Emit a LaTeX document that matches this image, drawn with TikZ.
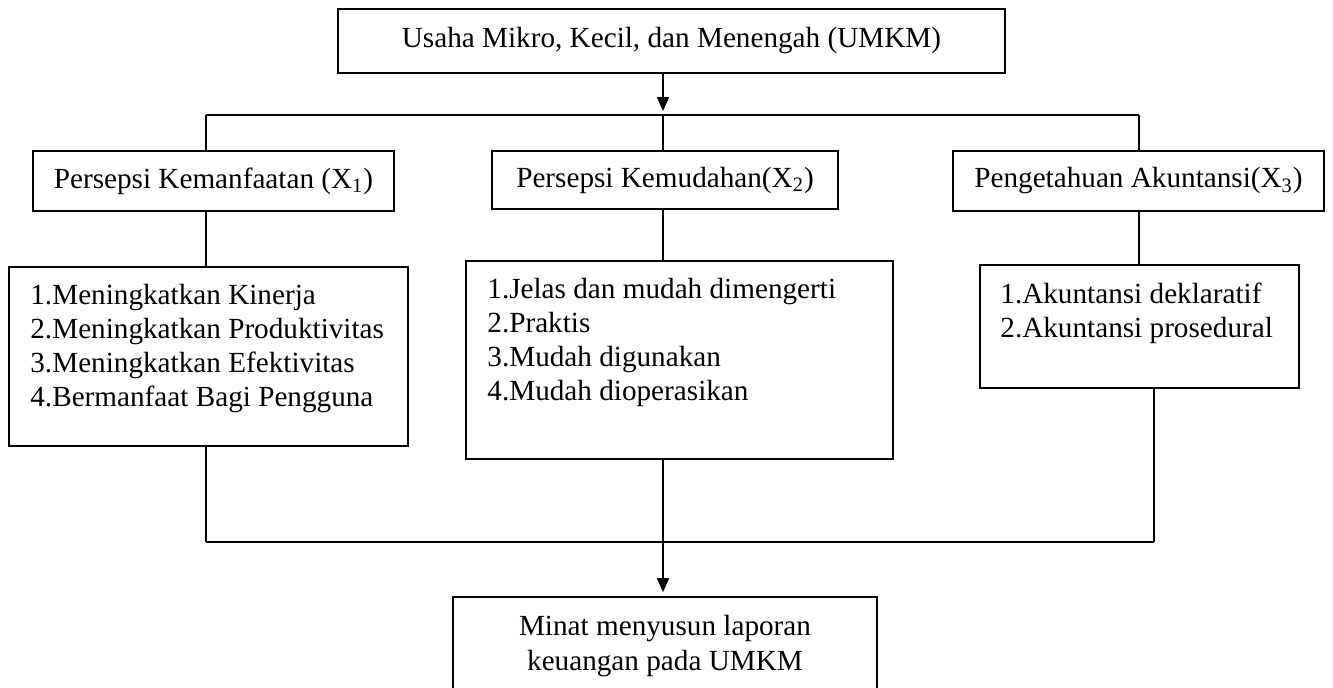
\documentclass[tikz,border=0pt]{standalone}
\usepackage{fontspec}
\setmainfont{Liberation Serif}
\usetikzlibrary{arrows.meta,calc}
\begin{document}
\begin{tikzpicture}[x=0.5pt,y=-0.5pt,
  box/.style={draw, line width=0.8pt, rectangle, inner sep=0pt, font=\fontsize{14.6pt}{17pt}\selectfont},
  listtext/.style={inner sep=0pt, anchor=base west, font=\fontsize{14.6pt}{17pt}\selectfont},
  conn/.style={line width=0.8pt},
  hconn/.style={line width=1pt},
  arr/.style={line width=0.8pt, -{Triangle[width=6pt,length=7pt]}, shorten >=2pt}
]
\useasboundingbox (0,0) rectangle (1333,687);
\clip (0,0) rectangle (1333,687);
\fill[white] (0,0) rectangle (1333,687);

% boxes
\node[box, minimum width=333.5pt, minimum height=32pt] (umkm) at (671.5,41) {Usaha Mikro, Kecil, dan Menengah (UMKM)};
\node[box, minimum width=180.5pt, minimum height=30pt] (x1) at (213.5,181) {Persepsi Kemanfaatan (X\textsubscript{1})};
\node[box, minimum width=173pt, minimum height=29pt] (x2) at (665,180) {Persepsi Kemudahan(X\textsubscript{2})};
\node[box, minimum width=185.5pt, minimum height=30pt] (x3) at (1138.5,181) {Pengetahuan Akuntansi(X\textsubscript{3})};

\node[box, minimum width=199.5pt, minimum height=89.5pt] (l1) at (208.5,356.5) {};
\node[box, minimum width=213.5pt, minimum height=99pt] (l2) at (679.5,360) {};
\node[box, minimum width=159.5pt, minimum height=61.5pt] (l3) at (1139.5,326.5) {};
\node[box, minimum width=212pt, minimum height=70pt] (mbox) at (665,667) {};

% texts
\node[listtext] (l1t) at (30,304) {\parbox[t]{190pt}{1.Meningkatkan Kinerja\\2.Meningkatkan Produktivitas\\3.Meningkatkan Efektivitas\\4.Bermanfaat Bagi Pengguna}};
\node[listtext] (l2t) at (487,298) {\parbox[t]{200pt}{1.Jelas dan mudah dimengerti\\2.Praktis\\3.Mudah digunakan\\4.Mudah dioperasikan}};
\node[listtext] (l3t) at (1000,303) {\parbox[t]{150pt}{1.Akuntansi deklaratif\\2.Akuntansi prosedural}};
\node[inner sep=0pt, anchor=base, font=\fontsize{14.6pt}{17.5pt}\selectfont] (mt) at (665,635) {\parbox[t]{200pt}{\centering Minat menyusun laporan\\keuangan pada UMKM}};

% top connectors
\coordinate (jtop) at (663,115);
\coordinate (tl) at (206,115);
\coordinate (tr) at (1139,115);
\draw[arr] (umkm.south -| jtop) -- (jtop);
\draw[hconn] (tl) -- (tr);
\draw[conn] (tl) -- (x1.north -| tl);
\draw[conn] (jtop) -- (x2.north -| jtop);
\draw[conn] (tr) -- (x3.north -| tr);
\draw[conn] (x1.south -| tl) -- (l1.north -| tl);
\draw[conn] (x2.south -| jtop) -- (l2.north -| jtop);
\draw[conn] (x3.south -| tr) -- (l3.north -| tr);

% bottom connectors
\coordinate (bl) at (206,542);
\coordinate (bm) at (663,542);
\coordinate (br) at (1154,542);
\draw[conn] (l1.south -| bl) -- (bl);
\draw[hconn] (bl) -- (br);
\draw[conn] (br) -- (l3.south -| br);
\draw[conn] (l2.south -| bm) -- (bm);
\draw[arr] (bm) -- (mbox.north -| bm);
\end{tikzpicture}
\end{document}
